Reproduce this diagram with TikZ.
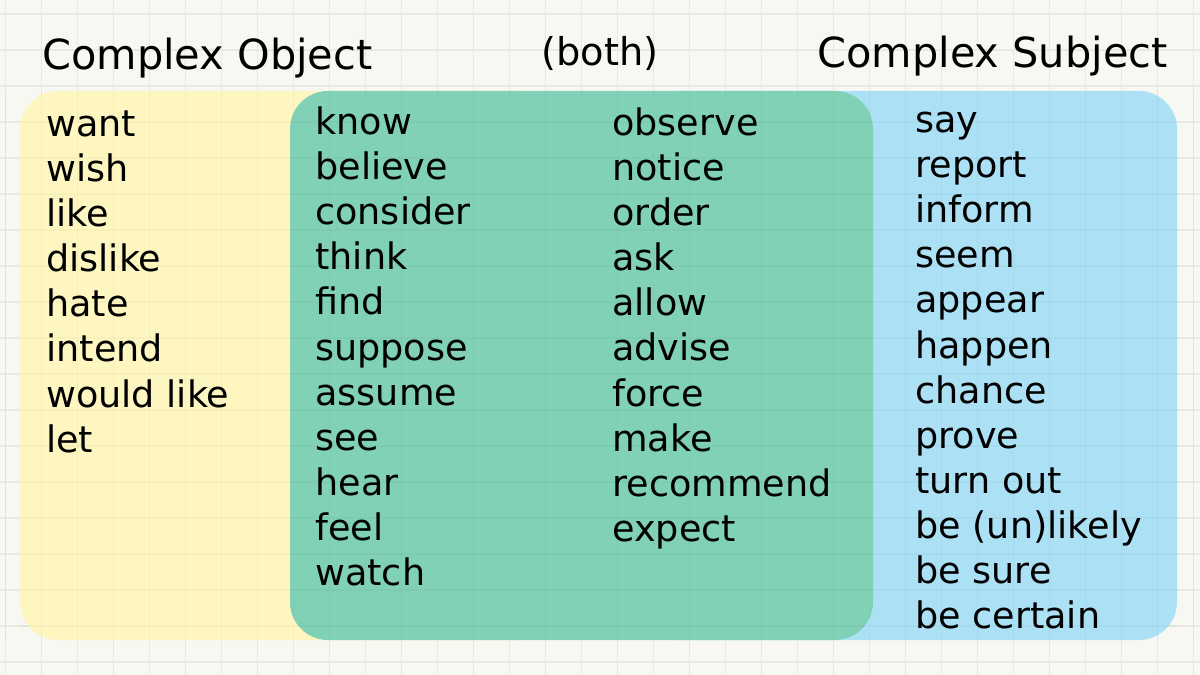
\documentclass[tikz,border=0pt]{standalone}
\usepackage{fontspec}
\setmainfont{DejaVu Sans}
\usetikzlibrary{positioning}
\definecolor{paper}{HTML}{F8F8F3}
\definecolor{gridline}{HTML}{E9E9E4}
\definecolor{lemon}{HTML}{FDF6C0}
\definecolor{mint}{HTML}{81D1B7}
\definecolor{sky}{HTML}{ABE0F5}

\begin{document}
\begin{tikzpicture}[x=0.02cm, y=-0.02cm,
      area/.style={rounded corners=0.76cm},
      heading/.style={anchor=base west, inner sep=0pt, font=\fontsize{23.6}{28}\selectfont},
      verb/.style={anchor=base west, inner sep=0pt, font=\fontsize{20.8}{25}\selectfont}]
    % paper and grid
    \fill[paper] (0,0) rectangle (1200,675);
    \useasboundingbox (0,0) rectangle (1200,675);
    \foreach \gx in {0,...,33} \draw[gridline, line width=0.9pt] (5.5+36*\gx,0) -- (5.5+36*\gx,675);
    \foreach \gy in {0,...,18} \draw[gridline, line width=0.9pt] (0,14+36*\gy) -- (1200,14+36*\gy);
    % the three areas
    \fill[lemon, area] (20,91) rectangle (560,640);
    \fill[sky, area] (640,91) rectangle (1177,640);
    \fill[mint, area] (290,91) rectangle (873,640);
    \foreach \gx in {0,...,33} \draw[black, opacity=0.025, line width=0.9pt] (5.5+36*\gx,91) -- (5.5+36*\gx,640);
    \foreach \gy in {3,...,17} \draw[black, opacity=0.025, line width=0.9pt] (20,14+36*\gy) -- (1177,14+36*\gy);
    % headings
    \node[heading] (objtitle) at (42,70) {Complex Object};
    \node[heading, anchor=base, font=\fontsize{21.8}{26}\selectfont] (bothtitle) at (600,66) {(both)};
    \node[heading, anchor=base east] (subjtitle) at (1168,68) {Complex Subject};
    % word lists
    \foreach \w [count=\i] in {want, wish, like, dislike, hate, intend, {would like}, let}
      \node[verb] (obj\i) at (46,137+45*\i-45) {\w};
    \foreach \w [count=\i] in {know, believe, consider, think, find, suppose, assume, see, hear, feel, watch}
      \node[verb] (botha\i) at (315,135+45*\i-45) {\w};
    \foreach \w [count=\i] in {observe, notice, order, ask, allow, advise, force, make, recommend, expect}
      \node[verb] (bothb\i) at (612,136+45*\i-45) {\w};
    \foreach \w [count=\i] in {say, report, inform, seem, appear, happen, chance, prove, {turn out}, {be (un)likely}, {be sure}, {be certain}}
      \node[verb] (subj\i) at (915,133+45*\i-45) {\w};
  \end{tikzpicture}
\end{document}
